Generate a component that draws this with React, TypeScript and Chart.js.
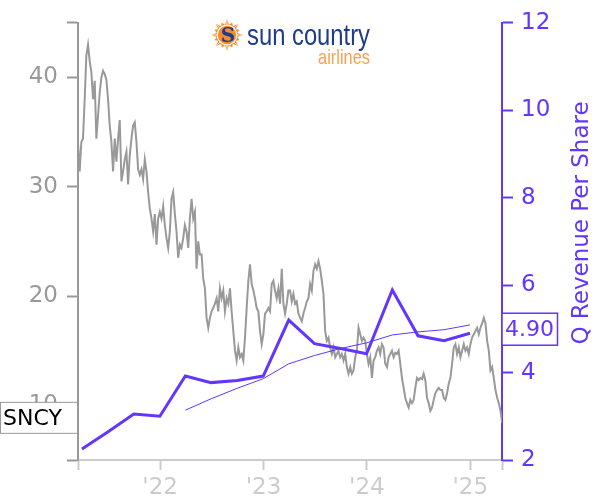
import React, { useEffect, useRef } from "react";
import { Chart, registerables } from "chart.js";

Chart.register(...registerables);

// ---------- data ----------
const TICKER = "SNCY";
const LAST_REV_LABEL = "4.90";

const X_MIN_DATE = "2021-03-17";
const X_MAX_DATE = "2025-04-23";
const YEAR_TICKS = [2022, 2023, 2024, 2025];

const PRICE_TICKS = [10, 20, 30, 40];
const PRICE_MIN = 5;
const PRICE_MAX = 45;

const REV_MIN = 2;
const REV_MAX = 12;
const REV_STEP = 2;

// share price samples, one every PRICE_STEP_DAYS from PRICE_START
const PRICE_START = "2021-03-17";
const PRICE_STEP_DAYS = 5.9;
const PRICE = [
  34.0, 31.4, 34.1, 34.4, 38.0, 42.0, 43.0, 41.5, 40.5, 38.0, 39.7, 34.4, 36.5, 38.6, 40.0, 40.6,
  40.3, 39.8, 38.0, 35.6, 34.1, 31.4, 34.4, 32.3, 34.4, 36.1, 30.5, 31.4, 32.5, 33.2, 30.2, 32.9,
  34.4, 35.6, 35.9, 34.1, 31.6, 31.1, 31.6, 30.7, 32.5, 31.4, 29.5, 28.0, 27.1, 25.9, 27.5, 24.7,
  27.1, 27.7, 27.1, 28.2, 26.5, 25.3, 24.4, 25.9, 28.9, 29.5, 27.5, 25.9, 23.5, 24.7, 24.4, 25.3,
  26.5,
  25.9, 24.4, 27.1, 28.9, 27.1, 27.7, 22.5, 25.0, 23.8, 23.8, 21.6, 20.7, 18.0, 17.1, 18.0, 18.6,
  18.9, 19.3, 19.8, 18.6, 20.7, 19.8, 20.5, 18.6, 19.8, 19.3, 20.7, 18.6, 16.8, 15.0, 14.1, 15.3,
  14.4, 14.7, 14.1, 16.2, 18.9, 21.4, 22.9, 21.1, 20.5, 19.8, 18.9, 18.6, 16.8, 15.6, 16.5, 18.4,
  18.6, 18.9, 18.6, 21.1, 21.4, 20.5, 19.8, 20.7, 19.3, 22.5, 19.3, 18.4, 19.3, 20.5,
  20.5, 19.5, 20.2, 19.3, 19.5, 18.4, 18.0, 17.7, 18.4, 18.9, 19.5, 19.8, 21.1, 20.5, 22.3, 22.9,
  22.5, 23.2, 22.5, 21.4, 20.2, 16.8, 15.9, 16.2, 15.3, 14.7, 15.3, 14.4, 14.7, 15.0, 14.4, 14.7,
  14.1, 14.7, 13.5, 12.9, 13.5, 12.9, 13.2, 14.4, 15.0, 17.1, 16.5, 15.9, 16.2, 15.9, 14.7, 13.8,
  14.4, 12.5, 14.1, 14.4, 15.0, 15.3, 14.7, 15.6, 15.3, 13.8, 13.5, 14.4, 14.7, 15.0, 14.4,
  14.8, 14.7, 15.0, 13.8, 12.5, 11.6, 10.7, 10.2, 9.8, 10.5, 10.2, 10.5, 11.6, 12.5, 12.3, 12.5,
  12.4, 12.9, 12.3, 10.7, 10.2, 9.5, 9.8, 10.5, 11.1, 11.4, 11.6, 11.4, 11.4, 10.7, 10.5, 11.1,
  12.0, 12.5, 13.8, 15.3, 15.6, 14.7, 15.3, 14.4, 15.0, 15.6, 15.0, 15.3, 14.7, 15.6, 16.2, 16.5,
  16.8, 17.1, 16.5, 17.1, 17.5, 18.0, 17.5, 15.9, 15.0, 13.2, 13.5, 12.5, 11.4, 10.7, 10.2, 9.5,
  8.4,
];

const QUARTER_ENDS = [
  "2021-03-31", "2021-06-30", "2021-09-30", "2021-12-31",
  "2022-03-31", "2022-06-30", "2022-09-30", "2022-12-31",
  "2023-03-31", "2023-06-30", "2023-09-30", "2023-12-31",
  "2024-03-31", "2024-06-30", "2024-09-30", "2024-12-31",
];
const REV_PER_SHARE = [
  2.25, 2.64, 3.05, 3.0, 3.92, 3.77, 3.82, 3.92, 5.2, 4.66, 4.55, 4.43, 5.89, 4.84, 4.73, 4.9,
];
const TTM_DATES = [
  "2022-03-31", "2022-06-30", "2022-09-30", "2022-12-31",
  "2023-03-31", "2023-06-30", "2023-09-30", "2023-12-31",
  "2024-03-31", "2024-06-30", "2024-09-30", "2024-12-31",
];
const TTM_REV_PER_SHARE = [3.14, 3.4, 3.64, 3.86, 4.2, 4.39, 4.55, 4.68, 4.86, 4.93, 4.98, 5.09];

// ---------- style ----------
const PURPLE = "#6236ff";
const GRAY = "#999999";
const LIGHT = "#cccccc";
const ORANGE = "#f58a2e";
const ORANGE_LIGHT = "#f9a052";
const NAVY = "#1f3c8c";
const FONT = "DejaVu Sans";

function toYear(s: string): number {
  const [y, m, d] = s.split("-").map(Number);
  const t = Date.UTC(y, m - 1, d);
  const a = Date.UTC(y, 0, 1);
  const b = Date.UTC(y + 1, 0, 1);
  return y + (t - a) / (b - a);
}

function drawLogo(ctx: CanvasRenderingContext2D) {
  const cx = 227;
  const cy = 35;
  ctx.save();
  // sun burst: 16 points, alternating long/short
  ctx.fillStyle = ORANGE;
  ctx.beginPath();
  const n = 16;
  for (let i = 0; i < n * 2; i++) {
    const r = i % 2 === 0 ? ((i / 2) % 2 === 0 ? 16 : 13.5) : 10.5;
    const a = -Math.PI / 2 + (i * Math.PI) / n;
    const px = cx + r * Math.cos(a);
    const py = cy + r * Math.sin(a);
    if (i === 0) ctx.moveTo(px, py);
    else ctx.lineTo(px, py);
  }
  ctx.closePath();
  ctx.fill();
  // thin white rays
  ctx.strokeStyle = "#ffffff";
  ctx.lineWidth = 0.8;
  for (let i = 0; i < 8; i++) {
    const a = -Math.PI / 2 + (i * Math.PI) / 4;
    ctx.beginPath();
    ctx.moveTo(cx + 10 * Math.cos(a), cy + 10 * Math.sin(a));
    ctx.lineTo(cx + 15 * Math.cos(a), cy + 15 * Math.sin(a));
    ctx.stroke();
  }
  ctx.beginPath();
  ctx.arc(cx, cy, 9.8, 0, Math.PI * 2);
  ctx.lineWidth = 1.2;
  ctx.stroke();
  ctx.fillStyle = NAVY;
  ctx.font = "bold 20px 'DejaVu Serif'";
  ctx.textAlign = "center";
  ctx.textBaseline = "middle";
  ctx.fillText("S", cx + 1, cy + 2);

  // "sun country"
  ctx.textAlign = "left";
  ctx.textBaseline = "alphabetic";
  ctx.font = "24px 'Liberation Sans'";
  const w1 = ctx.measureText("sun country").width;
  const s1 = (24 * 123) / w1;
  ctx.font = `${s1.toFixed(1)}px 'Liberation Sans'`;
  ctx.fillStyle = NAVY;
  ctx.save();
  ctx.translate(247, 45);
  ctx.scale(1, 1.2);
  ctx.fillText("sun country", 0, 0);
  ctx.restore();

  // "airlines"
  ctx.font = "18px 'Liberation Sans'";
  const w2 = ctx.measureText("airlines").width;
  const s2 = (18 * 52) / w2;
  ctx.font = `${s2.toFixed(1)}px 'Liberation Sans'`;
  ctx.fillStyle = ORANGE_LIGHT;
  ctx.textAlign = "right";
  ctx.save();
  ctx.translate(370, 64);
  ctx.scale(1, 1.2);
  ctx.fillText("airlines", 0, 0);
  ctx.restore();
  ctx.restore();
}

const overlayPlugin = {
  id: "overlay",
  afterDraw(chart: any) {
    const ctx: CanvasRenderingContext2D = chart.ctx;
    const yP = chart.scales.yPrice;
    const yR = chart.scales.yRev;

    // ticker box at last price
    const lastPrice = PRICE[PRICE.length - 1];
    const ty = yP.getPixelForValue(lastPrice) - 5;
    ctx.save();
    ctx.fillStyle = "#ffffff";
    ctx.fillRect(0.5, ty - 15.5, 77, 31);
    ctx.strokeStyle = GRAY;
    ctx.lineWidth = 1;
    ctx.strokeRect(0.5, ty - 15.5, 77, 31);
    ctx.fillStyle = "#000000";
    ctx.font = `22px '${FONT}'`;
    ctx.textAlign = "left";
    ctx.textBaseline = "middle";
    ctx.fillText(TICKER, 3, ty + 1);

    // last revenue box
    const lastRev = REV_PER_SHARE[REV_PER_SHARE.length - 1];
    const ry = yR.getPixelForValue(lastRev) - 4;
    ctx.fillStyle = "#ffffff";
    ctx.fillRect(502, ry - 16, 55.5, 32);
    ctx.strokeStyle = PURPLE;
    ctx.lineWidth = 1.5;
    ctx.strokeRect(502, ry - 16, 55.5, 32);
    ctx.fillStyle = PURPLE;
    ctx.font = `22px '${FONT}'`;
    ctx.fillText(LAST_REV_LABEL, 505, ry + 1);

    // right axis title
    ctx.translate(582, 223);
    ctx.rotate(-Math.PI / 2);
    ctx.textAlign = "center";
    ctx.textBaseline = "middle";
    ctx.font = `23px '${FONT}'`;
    ctx.fillText("Q Revenue Per Share", 0, 0);
    ctx.restore();

    drawLogo(ctx);
  },
};

export default function App() {
  const canvasRef = useRef<HTMLCanvasElement | null>(null);

  useEffect(() => {
    document.body.style.margin = "0";
    const canvas = canvasRef.current;
    if (!canvas) return;

    const xMin = toYear(X_MIN_DATE);
    const xMax = toYear(X_MAX_DATE);
    const start = toYear(PRICE_START);
    const priceData = PRICE.map((v, i) => ({ x: start + (i * PRICE_STEP_DAYS) / 365.25, y: v }));
    const revData = QUARTER_ENDS.map((d, i) => ({ x: toYear(d), y: REV_PER_SHARE[i] }));
    const ttmData = TTM_DATES.map((d, i) => ({ x: toYear(d), y: TTM_REV_PER_SHARE[i] }));

    const chart = new Chart(canvas, {
      type: "line",
      data: {
        datasets: [
          {
            data: revData,
            yAxisID: "yRev",
            borderColor: PURPLE,
            borderWidth: 3,
            pointRadius: 0,
            tension: 0,
            order: 1,
          },
          {
            data: ttmData,
            yAxisID: "yRev",
            borderColor: PURPLE,
            borderWidth: 1,
            pointRadius: 0,
            tension: 0,
            order: 2,
          },
          {
            data: priceData,
            yAxisID: "yPrice",
            borderColor: GRAY,
            borderWidth: 2,
            pointRadius: 0,
            tension: 0,
            order: 3,
          },
        ] as any,
      },
      options: {
        responsive: false,
        animation: false,
        events: [],
        layout: { padding: { top: 20, left: 0, right: 0, bottom: 0 } },
        plugins: { legend: { display: false }, tooltip: { enabled: false } },
        scales: {
          x: {
            type: "linear",
            min: xMin,
            max: xMax,
            afterBuildTicks: (s: any) => {
              s.ticks = [xMin, ...YEAR_TICKS, xMax].map((value) => ({ value }));
            },
            afterFit: (s: any) => {
              s.height = 40;
            },
            ticks: {
              autoSkip: false,
              maxRotation: 0,
              padding: 4,
              color: LIGHT,
              font: { family: FONT, size: 23 },
              callback: (v: any) => (YEAR_TICKS.includes(v) ? "'" + String(v).slice(2) : ""),
            },
            grid: {
              drawOnChartArea: false,
              drawTicks: true,
              tickLength: 10,
              tickWidth: 2,
              tickColor: LIGHT,
              color: LIGHT,
            },
            border: { display: true, color: LIGHT, width: 2 },
          },
          yPrice: {
            type: "linear",
            position: "left",
            min: PRICE_MIN,
            max: PRICE_MAX,
            afterBuildTicks: (s: any) => {
              s.ticks = [PRICE_MIN, ...PRICE_TICKS, PRICE_MAX].map((value) => ({ value }));
            },
            afterFit: (s: any) => {
              s.width = 78;
            },
            ticks: {
              autoSkip: false,
              padding: 9,
              color: GRAY,
              font: { family: FONT, size: 23 },
              callback: (v: any) => (PRICE_TICKS.includes(v) ? String(v) : ""),
            },
            grid: {
              drawOnChartArea: false,
              drawTicks: true,
              tickLength: 11,
              tickWidth: 2,
              tickColor: GRAY,
              color: GRAY,
            },
            border: { display: true, color: GRAY, width: 2 },
          },
          yRev: {
            type: "linear",
            position: "right",
            min: REV_MIN,
            max: REV_MAX,
            afterFit: (s: any) => {
              s.width = 98;
            },
            ticks: {
              stepSize: REV_STEP,
              autoSkip: false,
              padding: 8,
              color: PURPLE,
              font: { family: FONT, size: 23 },
            },
            grid: {
              drawOnChartArea: false,
              drawTicks: true,
              tickLength: 11,
              tickWidth: 2,
              tickColor: PURPLE,
              color: PURPLE,
            },
            border: { display: true, color: PURPLE, width: 2 },
          },
        },
      } as any,
      plugins: [overlayPlugin],
    });

    return () => {
      chart.destroy();
    };
  }, []);

  return (
    <div style={{ width: 600, height: 500 }}>
      <canvas ref={canvasRef} width={600} height={500} style={{ display: "block", width: 600, height: 500 }} />
    </div>
  );
}
